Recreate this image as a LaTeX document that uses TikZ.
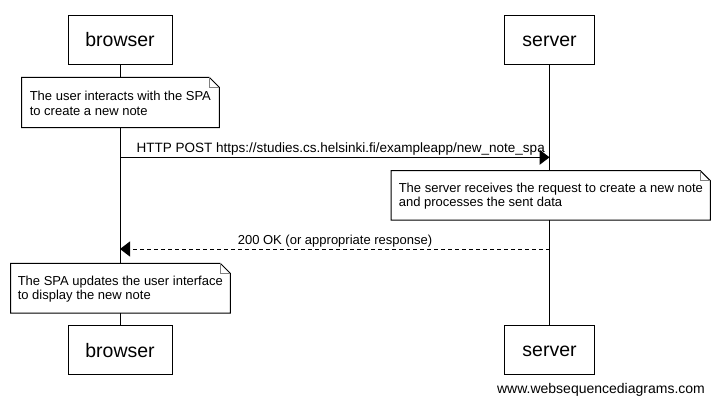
\documentclass[tikz,border=0pt]{standalone}
\usepackage{fontspec}
\setmainfont{Liberation Sans}
\usetikzlibrary{arrows.meta}
\begin{document}
\begin{tikzpicture}[x=1pt,y=-1pt,line width=1pt,
  actor/.style={draw, fill=white, minimum height=49pt, inner sep=0pt, text height=14.4pt, text depth=0pt, font=\fontsize{19.5}{22}\selectfont},
  notebg/.style={fill=white, anchor=north west, inner sep=0pt},
  notetext/.style={anchor=west, align=left, inner sep=0pt, font=\fontsize{13}{14.5}\selectfont},
  msg/.style={-{Triangle[length=10pt,width=15pt]}},
  lbl/.style={inner sep=0pt, font=\fontsize{13}{14.5}\selectfont},
  fold/.style={gray, line width=0.6pt},
  lifeline/.style={line width=1pt}]
\fill[white] (0,0) rectangle (718,408);
\useasboundingbox (0,0) rectangle (718,408);
% actors
\node[actor, minimum width=104pt] (bt) at (120,39.5) {browser};
\node[actor, minimum width=90pt] (st) at (549.5,39.5) {server};
\node[actor, minimum width=104pt] (bb) at (120,350) {browser};
\node[actor, minimum width=90pt] (sb) at (549.5,349.5) {server};
% lifelines
\draw[lifeline] (bt.south) -- (bb.north);
\draw[lifeline] (st.south) -- (sb.north);
% note 1
\node[notebg, minimum width=196.6pt, minimum height=49.4pt] (n1) at (21.7,77.3) {};
\draw (n1.south west) -- (n1.north west) -- ([xshift=-10pt]n1.north east) -- ([yshift=-10pt]n1.north east) -- (n1.south east) -- cycle;
\draw[fold] ([xshift=-10pt]n1.north east) -- ([xshift=-10pt,yshift=-10pt]n1.north east) -- ([yshift=-10pt]n1.north east);
\node[notetext] (n1t) at ([xshift=7.6pt,yshift=-1pt]n1.west) {The user interacts with the SPA\\to create a new note};
% message 1
\coordinate (m1b) at (120,157.3);
\coordinate (m1s) at (549.5,157.3);
\draw[msg] (m1b) -- (m1s);
\node[lbl, font=\fontsize{13.5}{15}\selectfont] (l1) at (340.7,149.5) {HTTP POST https://studies.cs.helsinki.fi/exampleapp/new\_note\_spa};
% note 2
\node[notebg, minimum width=318.3pt, minimum height=48.3pt] (n2) at (391,170.7) {};
\draw (n2.south west) -- (n2.north west) -- ([xshift=-10pt]n2.north east) -- ([yshift=-10pt]n2.north east) -- (n2.south east) -- cycle;
\draw[fold] ([xshift=-10pt]n2.north east) -- ([xshift=-10pt,yshift=-10pt]n2.north east) -- ([yshift=-10pt]n2.north east);
\node[notetext] (n2t) at ([xshift=7.3pt,yshift=-1pt]n2.west) {The server receives the request to create a new note\\and processes the sent data};
% message 2
\coordinate (m2s) at (549.5,249);
\coordinate (m2b) at (120,249);
\draw[msg, dash pattern=on 4pt off 3pt] (m2s) -- (m2b);
\node[lbl] (l2) at (335,241) {200 OK (or appropriate response)};
% note 3
\node[notebg, minimum width=218.6pt, minimum height=48.7pt] (n3) at (10.7,263.3) {};
\draw (n3.south west) -- (n3.north west) -- ([xshift=-10pt]n3.north east) -- ([yshift=-10pt]n3.north east) -- (n3.south east) -- cycle;
\draw[fold] ([xshift=-10pt]n3.north east) -- ([xshift=-10pt,yshift=-10pt]n3.north east) -- ([yshift=-10pt]n3.north east);
\node[notetext] (n3t) at ([xshift=6.6pt,yshift=-1pt]n3.west) {The SPA updates the user interface\\to display the new note};
% watermark
\node[inner sep=0pt, font=\fontsize{14}{16}\selectfont] (wm) at (601,390) {www.websequencediagrams.com};
\end{tikzpicture}
\end{document}
